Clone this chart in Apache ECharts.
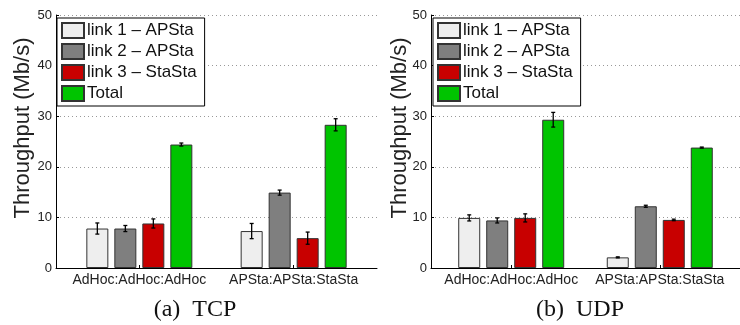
<!DOCTYPE html>
<html>
<head>
<meta charset="utf-8">
<script src="https://cdn.jsdelivr.net/npm/echarts@6/dist/echarts.min.js"></script>
<style>
  html, body { margin: 0; padding: 0; background: #fff; }
  #chart { width: 740px; height: 325px; }
</style>
</head>
<body>
<div id="chart"></div>
<script>
// data
var categories = ['AdHoc:AdHoc:AdHoc', 'APSta:APSta:StaSta'];
var seriesNames = ['link 1 \u2013 APSta', 'link 2 \u2013 APSta', 'link 3 \u2013 StaSta', 'Total'];
var yTicks = [0, 10, 20, 30, 40, 50];

// TCP: one array per link, one value per category
var tcpLink1 = [7.8, 7.3];
var tcpLink2 = [7.8, 14.9];
var tcpLink3 = [8.8, 5.9];
var tcpTotal = [24.4, 28.3];
var tcpErr1 = [1.1, 1.5];
var tcpErr2 = [0.6, 0.5];
var tcpErr3 = [0.9, 1.2];
var tcpErrT = [0.3, 1.2];

// UDP
var udpLink1 = [9.9, 2.1];
var udpLink2 = [9.4, 12.2];
var udpLink3 = [9.9, 9.5];
var udpTotal = [29.3, 23.8];
var udpErr1 = [0.6, 0.1];
var udpErr2 = [0.5, 0.2];
var udpErr3 = [0.8, 0.15];
var udpErrT = [1.45, 0.1];

var colors = ['#eeeeee', '#7f7f7f', '#c80000', '#00c400'];
var BAR_W = 22;
var BAR_PITCH = 28;

var chart = echarts.init(document.getElementById('chart'));

// category i sits at x = i + 1 on a value axis
function pairs(vals) {
  return vals.map(function (v, i) { return [i + 1, v]; });
}

function barSeries(gi, vals) {
  return vals.map(function (arr, k) {
    return {
      type: 'bar',
      name: seriesNames[k],
      xAxisIndex: gi,
      yAxisIndex: gi,
      barWidth: BAR_W,
      barGap: ((BAR_PITCH - BAR_W) / BAR_W * 100) + '%',
      itemStyle: { color: colors[k], borderColor: '#333', borderWidth: 1 },
      data: pairs(arr),
      z: 2
    };
  });
}

// error bars: [x, value, err, seriesIdx]
function errSeries(gi, vals, errs) {
  var data = [];
  vals.forEach(function (arr, k) {
    arr.forEach(function (v, i) {
      data.push([i + 1, v, errs[k][i], k]);
    });
  });
  return {
    type: 'custom',
    xAxisIndex: gi,
    yAxisIndex: gi,
    silent: true,
    z: 5,
    data: data,
    renderItem: function (params, api) {
      var x = api.value(0), v = api.value(1), e = api.value(2), k = api.value(3);
      var top = api.coord([x, v + e]);
      var bot = api.coord([x, v - e]);
      var cx = top[0] + (k - 1.5) * BAR_PITCH;
      var st = { stroke: '#000', lineWidth: 1.3 };
      return {
        type: 'group',
        children: [
          { type: 'line', shape: { x1: cx, y1: top[1], x2: cx, y2: bot[1] }, style: st },
          { type: 'line', shape: { x1: cx - 2, y1: top[1], x2: cx + 2, y2: top[1] }, style: st },
          { type: 'line', shape: { x1: cx - 2, y1: bot[1], x2: cx + 2, y2: bot[1] }, style: st }
        ]
      };
    }
  };
}

function xAxis(gi) {
  return {
    type: 'value',
    gridIndex: gi,
    min: 0.46,
    max: 2.54,
    axisLine: { show: true, onZero: false, lineStyle: { color: '#000', width: 1 } },
    axisTick: { show: true, inside: true, length: 3, customValues: [1, 2], lineStyle: { color: '#000' } },
    axisLabel: {
      customValues: [1, 2],
      formatter: function (v) { return categories[Math.round(v) - 1] || ''; },
      color: '#222',
      fontSize: 14,
      fontFamily: 'Liberation Sans',
      margin: 5
    },
    splitLine: { show: false }
  };
}

function yAxis(gi) {
  return {
    type: 'value',
    gridIndex: gi,
    min: yTicks[0],
    max: yTicks[yTicks.length - 1],
    interval: 10,
    axisLine: { show: true, lineStyle: { color: '#000', width: 1 } },
    axisTick: { show: true, inside: true, length: 3, lineStyle: { color: '#000' } },
    axisLabel: { color: '#222', fontSize: 13, fontFamily: 'Liberation Sans', margin: 4 },
    splitLine: { show: true, lineStyle: { color: '#999', type: [1, 3], width: 1 } }
  };
}

function legend(left) {
  return {
    orient: 'vertical',
    left: left,
    top: 18,
    padding: [4, 8, 4, 4],
    itemWidth: 22,
    itemHeight: 15,
    itemGap: 4,
    backgroundColor: '#fff',
    borderColor: '#000',
    borderWidth: 1,
    icon: 'rect',
    selectedMode: false,
    textStyle: { color: '#111', fontSize: 17, fontFamily: 'Liberation Sans', padding: [0, 0, 0, -2] },
    data: seriesNames
  };
}

var tcpVals = [tcpLink1, tcpLink2, tcpLink3, tcpTotal];
var tcpErrs = [tcpErr1, tcpErr2, tcpErr3, tcpErrT];
var udpVals = [udpLink1, udpLink2, udpLink3, udpTotal];
var udpErrs = [udpErr1, udpErr2, udpErr3, udpErrT];

var option = {
  animation: false,
  backgroundColor: '#fff',
  grid: [
    { left: 56, top: 15, width: 321, height: 253 },
    { left: 431, top: 15, width: 321, height: 253 }
  ],
  xAxis: [xAxis(0), xAxis(1)],
  yAxis: [yAxis(0), yAxis(1)],
  legend: [legend(57), legend(433)],
  graphic: [
    { type: 'text', x: 23, y: 128, rotation: Math.PI / 2,
      style: { text: 'Throughput (Mb/s)', font: '22px "Liberation Sans"', fill: '#222', align: 'center', verticalAlign: 'middle' } },
    { type: 'text', x: 400, y: 128, rotation: Math.PI / 2,
      style: { text: 'Throughput (Mb/s)', font: '22px "Liberation Sans"', fill: '#222', align: 'center', verticalAlign: 'middle' } },
    { type: 'text', x: 195, y: 310,
      style: { text: '(a)  TCP', font: '24px "Liberation Serif"', fill: '#111', align: 'center', verticalAlign: 'middle' } },
    { type: 'text', x: 580, y: 310,
      style: { text: '(b)  UDP', font: '24px "Liberation Serif"', fill: '#111', align: 'center', verticalAlign: 'middle' } }
  ],
  series: []
    .concat(barSeries(0, tcpVals))
    .concat([errSeries(0, tcpVals, tcpErrs)])
    .concat(barSeries(1, udpVals))
    .concat([errSeries(1, udpVals, udpErrs)])
};

chart.setOption(option);
</script>
</body>
</html>
